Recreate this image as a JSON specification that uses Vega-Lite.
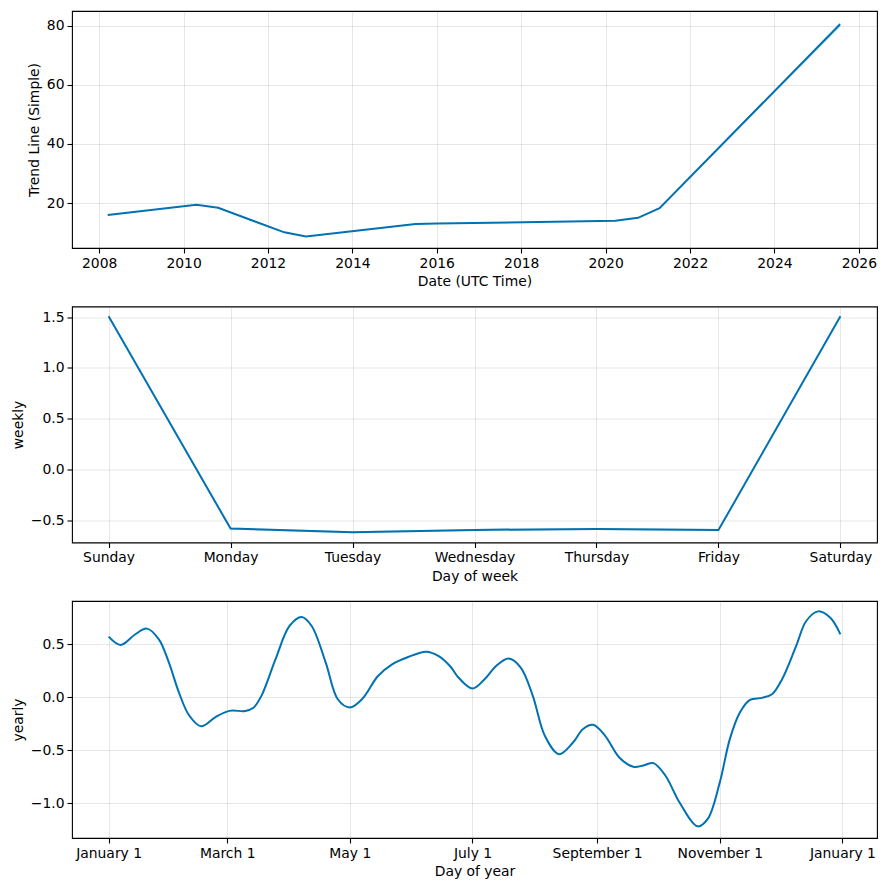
{
  "$schema": "https://vega.github.io/schema/vega-lite/v6.json",
  "background": "white",
  "padding": {"left": 10, "top": 10, "right": 5, "bottom": 5},
  "bounds": "flush",
  "spacing": 58.5,
  "datasets": {
    "trend": [
      {"ds": "2008-03-15", "trend": 16.0, "lower": 15.9, "upper": 16.1},
      {"ds": "2010-04-22", "trend": 19.4, "lower": 19.3, "upper": 19.5},
      {"ds": "2010-10-27", "trend": 18.4, "lower": 18.3, "upper": 18.5},
      {"ds": "2012-05-22", "trend": 10.1, "lower": 10.0, "upper": 10.2},
      {"ds": "2012-11-25", "trend": 8.7, "lower": 8.6, "upper": 8.8},
      {"ds": "2015-07-01", "trend": 12.9, "lower": 12.8, "upper": 13.0},
      {"ds": "2016-01-01", "trend": 13.05, "lower": 12.95, "upper": 13.15},
      {"ds": "2020-03-25", "trend": 14.0, "lower": 13.9, "upper": 14.1},
      {"ds": "2020-10-08", "trend": 15.0, "lower": 14.9, "upper": 15.1},
      {"ds": "2021-04-12", "trend": 18.3, "lower": 18.2, "upper": 18.4},
      {"ds": "2025-07-23", "trend": 80.5, "lower": 79.6, "upper": 81.2}
    ],
    "weekly": [
      {"day": "Sunday", "weekly": 1.51, "lower": 1.50, "upper": 1.52},
      {"day": "Monday", "weekly": -0.583, "lower": -0.595, "upper": -0.572},
      {"day": "Tuesday", "weekly": -0.619, "lower": -0.63, "upper": -0.61},
      {"day": "Wednesday", "weekly": -0.596, "lower": -0.607, "upper": -0.586},
      {"day": "Thursday", "weekly": -0.586, "lower": -0.597, "upper": -0.576},
      {"day": "Friday", "weekly": -0.598, "lower": -0.61, "upper": -0.588},
      {"day": "Saturday", "weekly": 1.51, "lower": 1.50, "upper": 1.52}
    ],
    "yearly": [
      {"ds": "2017-01-01", "yearly": 0.572},
      {"ds": "2017-01-07", "yearly": 0.494},
      {"ds": "2017-01-14", "yearly": 0.59},
      {"ds": "2017-01-20", "yearly": 0.648},
      {"ds": "2017-01-26", "yearly": 0.547},
      {"ds": "2017-01-31", "yearly": 0.327},
      {"ds": "2017-02-05", "yearly": 0.044},
      {"ds": "2017-02-10", "yearly": -0.17},
      {"ds": "2017-02-16", "yearly": -0.274},
      {"ds": "2017-02-23", "yearly": -0.19},
      {"ds": "2017-03-02", "yearly": -0.129},
      {"ds": "2017-03-10", "yearly": -0.13},
      {"ds": "2017-03-14", "yearly": -0.10},
      {"ds": "2017-03-18", "yearly": 0.013},
      {"ds": "2017-03-25", "yearly": 0.358},
      {"ds": "2017-04-01", "yearly": 0.673},
      {"ds": "2017-04-07", "yearly": 0.758},
      {"ds": "2017-04-12", "yearly": 0.673},
      {"ds": "2017-04-19", "yearly": 0.327},
      {"ds": "2017-04-25", "yearly": -0.019},
      {"ds": "2017-05-01", "yearly": -0.097},
      {"ds": "2017-05-07", "yearly": -0.019},
      {"ds": "2017-05-15", "yearly": 0.20},
      {"ds": "2017-05-22", "yearly": 0.311},
      {"ds": "2017-05-30", "yearly": 0.38},
      {"ds": "2017-06-08", "yearly": 0.43},
      {"ds": "2017-06-14", "yearly": 0.39},
      {"ds": "2017-06-20", "yearly": 0.29},
      {"ds": "2017-06-24", "yearly": 0.186},
      {"ds": "2017-07-01", "yearly": 0.082},
      {"ds": "2017-07-07", "yearly": 0.17},
      {"ds": "2017-07-13", "yearly": 0.30},
      {"ds": "2017-07-19", "yearly": 0.365},
      {"ds": "2017-07-25", "yearly": 0.28},
      {"ds": "2017-07-31", "yearly": 0.013},
      {"ds": "2017-08-06", "yearly": -0.365},
      {"ds": "2017-08-13", "yearly": -0.538},
      {"ds": "2017-08-20", "yearly": -0.428},
      {"ds": "2017-08-25", "yearly": -0.30},
      {"ds": "2017-08-30", "yearly": -0.261},
      {"ds": "2017-09-05", "yearly": -0.365},
      {"ds": "2017-09-12", "yearly": -0.569},
      {"ds": "2017-09-19", "yearly": -0.657},
      {"ds": "2017-09-24", "yearly": -0.645},
      {"ds": "2017-09-29", "yearly": -0.623},
      {"ds": "2017-10-05", "yearly": -0.742},
      {"ds": "2017-10-12", "yearly": -0.994},
      {"ds": "2017-10-21", "yearly": -1.22},
      {"ds": "2017-10-26", "yearly": -1.15},
      {"ds": "2017-11-01", "yearly": -0.805},
      {"ds": "2017-11-06", "yearly": -0.396},
      {"ds": "2017-11-11", "yearly": -0.145},
      {"ds": "2017-11-16", "yearly": -0.025},
      {"ds": "2017-11-22", "yearly": -0.006},
      {"ds": "2017-11-27", "yearly": 0.028},
      {"ds": "2017-12-02", "yearly": 0.17},
      {"ds": "2017-12-09", "yearly": 0.484},
      {"ds": "2017-12-14", "yearly": 0.72},
      {"ds": "2017-12-20", "yearly": 0.811},
      {"ds": "2017-12-26", "yearly": 0.75},
      {"ds": "2017-12-31", "yearly": 0.594}
    ]
  },
  "vconcat": [
    {
      "width": 805,
      "height": 237,
      "data": {"name": "trend"},
      "encoding": {
        "x": {
          "field": "ds", "type": "temporal",
          "scale": {"type": "utc", "domain": [
            {"year": 2007, "month": 5, "date": 11, "utc": true},
            {"year": 2026, "month": 6, "date": 7, "utc": true}
          ]},
          "axis": {
            "title": "Date (UTC Time)", "format": "%Y",
            "values": [
              {"year": 2008, "month": 1, "date": 1, "utc": true},
              {"year": 2010, "month": 1, "date": 1, "utc": true},
              {"year": 2012, "month": 1, "date": 1, "utc": true},
              {"year": 2014, "month": 1, "date": 1, "utc": true},
              {"year": 2016, "month": 1, "date": 1, "utc": true},
              {"year": 2018, "month": 1, "date": 1, "utc": true},
              {"year": 2020, "month": 1, "date": 1, "utc": true},
              {"year": 2022, "month": 1, "date": 1, "utc": true},
              {"year": 2024, "month": 1, "date": 1, "utc": true},
              {"year": 2026, "month": 1, "date": 1, "utc": true}
            ]
          }
        }
      },
      "layer": [
        {
          "mark": {"type": "area", "color": "#0072B2", "opacity": 0.2},
          "encoding": {
            "y": {"field": "lower", "type": "quantitative", "scale": {"domain": [4.8, 85.0], "nice": false, "zero": false}, "axis": {"title": "Trend Line (Simple)", "values": [20, 40, 60, 80]}},
            "y2": {"field": "upper"}
          }
        },
        {
          "mark": {"type": "line", "color": "#0072B2", "strokeWidth": 2},
          "encoding": {
            "y": {"field": "trend", "type": "quantitative"}
          }
        }
      ]
    },
    {
      "width": 805,
      "height": 236,
      "data": {"name": "weekly"},
      "encoding": {
        "x": {
          "field": "day", "type": "ordinal",
          "sort": ["Sunday", "Monday", "Tuesday", "Wednesday", "Thursday", "Friday", "Saturday"],
          "scale": {"type": "point", "padding": 0.3},
          "axis": {"title": "Day of week", "labelAngle": 0}
        }
      },
      "layer": [
        {
          "mark": {"type": "area", "color": "#0072B2", "opacity": 0.2},
          "encoding": {
            "y": {"field": "lower", "type": "quantitative", "scale": {"domain": [-0.72, 1.605], "nice": false, "zero": false}, "axis": {"title": "weekly", "values": [-0.5, 0, 0.5, 1, 1.5], "format": ".1f"}},
            "y2": {"field": "upper"}
          }
        },
        {
          "mark": {"type": "line", "color": "#0072B2", "strokeWidth": 2},
          "encoding": {
            "y": {"field": "weekly", "type": "quantitative"}
          }
        }
      ]
    },
    {
      "width": 805,
      "height": 237,
      "data": {"name": "yearly"},
      "mark": {"type": "line", "color": "#0072B2", "strokeWidth": 2, "interpolate": "catmull-rom"},
      "encoding": {
        "x": {
          "field": "ds", "type": "temporal",
          "scale": {"type": "utc", "domain": [
            {"year": 2016, "month": 12, "date": 13, "hours": 19, "utc": true},
            {"year": 2018, "month": 1, "date": 18, "hours": 5, "utc": true}
          ]},
          "axis": {
            "title": "Day of year", "format": "%B %-d",
            "values": [
              {"year": 2017, "month": 1, "date": 1, "utc": true},
              {"year": 2017, "month": 3, "date": 1, "utc": true},
              {"year": 2017, "month": 5, "date": 1, "utc": true},
              {"year": 2017, "month": 7, "date": 1, "utc": true},
              {"year": 2017, "month": 9, "date": 1, "utc": true},
              {"year": 2017, "month": 11, "date": 1, "utc": true},
              {"year": 2018, "month": 1, "date": 1, "utc": true}
            ]
          }
        },
        "y": {"field": "yearly", "type": "quantitative", "scale": {"domain": [-1.33, 0.909], "nice": false, "zero": false}, "axis": {"title": "yearly", "values": [-1, -0.5, 0, 0.5], "format": ".1f"}}
      }
    }
  ],
  "config": {
    "view": {"stroke": "#000000", "strokeWidth": 1.1},
    "axis": {
      "domain": false,
      "grid": true,
      "gridColor": "#808080",
      "gridOpacity": 0.2,
      "gridWidth": 1,
      "ticks": true,
      "tickColor": "#000000",
      "tickSize": 5,
      "tickWidth": 1.1,
      "labelColor": "#000000",
      "labelFont": "DejaVu Sans",
      "labelFontSize": 13.9,
      "labelPadding": 3,
      "labelFlush": false,
      "labelOverlap": false,
      "titleColor": "#000000",
      "titleFont": "DejaVu Sans",
      "titleFontSize": 13.9,
      "titleFontWeight": "normal",
      "titlePadding": 5
    }
  }
}
